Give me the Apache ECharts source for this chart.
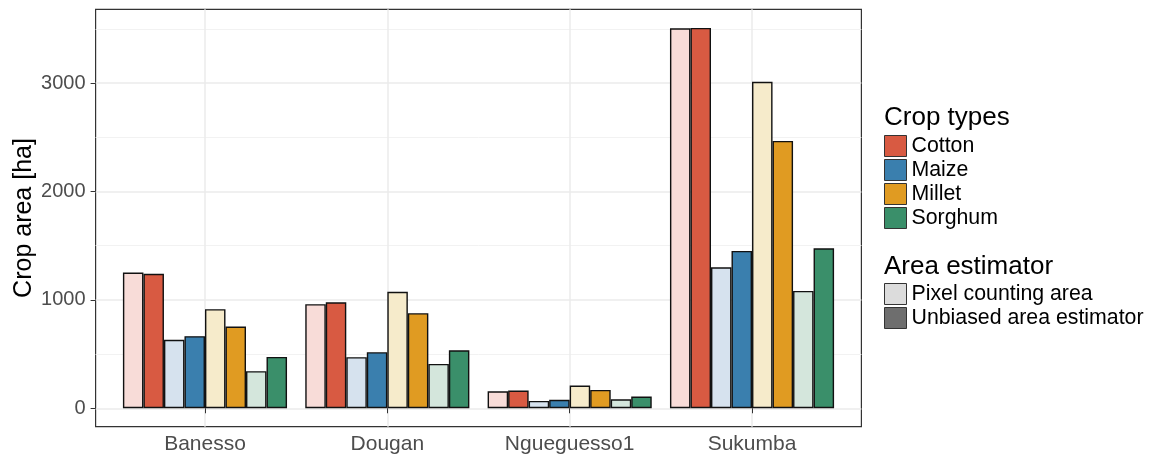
<!DOCTYPE html>
<html><head><meta charset="utf-8">
<script src="https://cdn.jsdelivr.net/npm/echarts@6/dist/echarts.min.js"></script>
<style>html,body{margin:0;padding:0;background:#fff}#c{width:1150px;height:458px}</style>
</head><body><div id="c"></div>
<script>
// ---- data ----
const categories = ['Banesso', 'Dougan', 'Ngueguesso1', 'Sukumba'];
const cropTypes = ['Cotton', 'Maize', 'Millet', 'Sorghum'];
const estimators = ['Pixel counting area', 'Unbiased area estimator'];
const cottonPixel     = [1252, 960, 157, 3505];
const cottonUnbiased  = [1240, 978, 163, 3508];
const maizePixel      = [631, 471, 68, 1300];
const maizeUnbiased   = [665, 517, 78, 1451];
const milletPixel     = [914, 1074, 210, 3011];
const milletUnbiased  = [754, 877, 169, 2466];
const sorghumPixel    = [342, 409, 83, 1082];
const sorghumUnbiased = [474, 535, 108, 1476];
const yTicks = [0, 1000, 2000, 3000];
const yMinorTicks = [500, 1500, 2500, 3500];

// ---- styles ----
const FONT = "'Liberation Sans', Arial, Helvetica, sans-serif";
const darkColors  = ['#d85a42', '#3a7fae', '#e09b22', '#3a8f6a'];
const lightColors = ['#f8dcd8', '#d6e2ee', '#f6ebcb', '#d4e6dc'];
const estimatorColors = ['#dcdcdc', '#6e6e6e'];
const Y_MIN = -170, Y_MAX = 3680;
const X_MIN = 0.4, X_MAX = categories.length + 0.6;
const xPositions = categories.map((c, i) => i + 1);

const pixelSets = [cottonPixel, maizePixel, milletPixel, sorghumPixel];
const unbiasedSets = [cottonUnbiased, maizeUnbiased, milletUnbiased, sorghumUnbiased];

const series = [];
cropTypes.forEach((crop, i) => {
  series.push({
    name: crop + ' (' + estimators[0] + ')', type: 'bar', xAxisIndex: 1, yAxisIndex: 2,
    data: pixelSets[i], barGap: '0%', barCategoryGap: '10%',
    itemStyle: { color: lightColors[i], borderColor: '#111', borderWidth: 1.4 }
  });
  series.push({
    name: crop, type: 'bar', xAxisIndex: 1, yAxisIndex: 2,
    data: unbiasedSets[i], barGap: '0%', barCategoryGap: '10%',
    itemStyle: { color: darkColors[i], borderColor: '#111', borderWidth: 1.4 }
  });
});
estimators.forEach((e, i) => {
  series.push({ name: e, type: 'scatter', xAxisIndex: 1, yAxisIndex: 2, data: [],
    itemStyle: { color: estimatorColors[i], opacity: 1 } });
});

const legendCommon = {
  orient: 'vertical', left: 884, padding: 0, itemWidth: 22, itemHeight: 21, itemGap: 2,
  icon: 'rect', selectedMode: false,
  itemStyle: { borderColor: '#333', borderWidth: 1, opacity: 1 },
  textStyle: { fontSize: 21.3, lineHeight: 21, color: '#000', fontFamily: FONT }
};

const option = {
  animation: false,
  backgroundColor: '#fff',
  textStyle: { fontFamily: FONT },
  title: [
    { text: 'Crop types', left: 884, top: 105, padding: 0,
      textStyle: { fontSize: 26, fontWeight: 'normal', color: '#000', fontFamily: FONT } },
    { text: 'Area estimator', left: 884, top: 254, padding: 0,
      textStyle: { fontSize: 26, fontWeight: 'normal', color: '#000', fontFamily: FONT } }
  ],
  legend: [
    Object.assign({}, legendCommon, { top: 135, data: cropTypes }),
    Object.assign({}, legendCommon, { top: 283, data: estimators })
  ],
  grid: [
    { left: 95.6, right: 288.6, top: 9.3, bottom: 31.3, show: true,
      borderColor: '#333', borderWidth: 1.2, backgroundColor: '#fff',
      containLabel: false, outerBoundsMode: 'none' },
    { left: 113.8, right: 306.8, top: 9.3, bottom: 31.3,
      containLabel: false, outerBoundsMode: 'none' }
  ],
  xAxis: [
    { type: 'value', gridIndex: 0, min: X_MIN, max: X_MAX,
      axisLine: { show: false },
      axisTick: { show: true, customValues: xPositions, length: 5, lineStyle: { color: '#333', width: 1 } },
      axisLabel: { show: true, customValues: xPositions, margin: 7, fontSize: 21, color: '#4d4d4d',
        fontFamily: FONT, formatter: v => categories[Math.round(v) - 1] },
      splitLine: { show: true, lineStyle: { color: '#ebebeb', width: 1.5 } } },
    { type: 'category', gridIndex: 1, data: categories, show: false }
  ],
  yAxis: [
    { type: 'value', gridIndex: 0, min: Y_MIN, max: Y_MAX,
      name: 'Crop area [ha]', nameLocation: 'middle', nameGap: 59, nameMoveOverlap: false,
      nameTextStyle: { fontSize: 25, color: '#000', fontFamily: FONT },
      axisLine: { show: false },
      axisTick: { show: true, customValues: yTicks, length: 5, lineStyle: { color: '#333', width: 1 } },
      axisLabel: { show: true, customValues: yTicks, margin: 10, fontSize: 20, color: '#4d4d4d',
        fontFamily: FONT, formatter: v => String(Math.round(v)) },
      splitLine: { show: true, lineStyle: { color: '#ebebeb', width: 1.5 } } },
    { type: 'value', gridIndex: 0, min: Y_MIN, max: Y_MAX,
      axisLine: { show: false },
      axisTick: { show: false, customValues: yMinorTicks },
      axisLabel: { show: false, customValues: yMinorTicks },
      splitLine: { show: true, lineStyle: { color: '#f2f2f2', width: 1 } } },
    { type: 'value', gridIndex: 1, min: Y_MIN, max: Y_MAX, show: false }
  ],
  series: series
};
const chart = echarts.init(document.getElementById('c'));
chart.setOption(option);
</script>
</body></html>
